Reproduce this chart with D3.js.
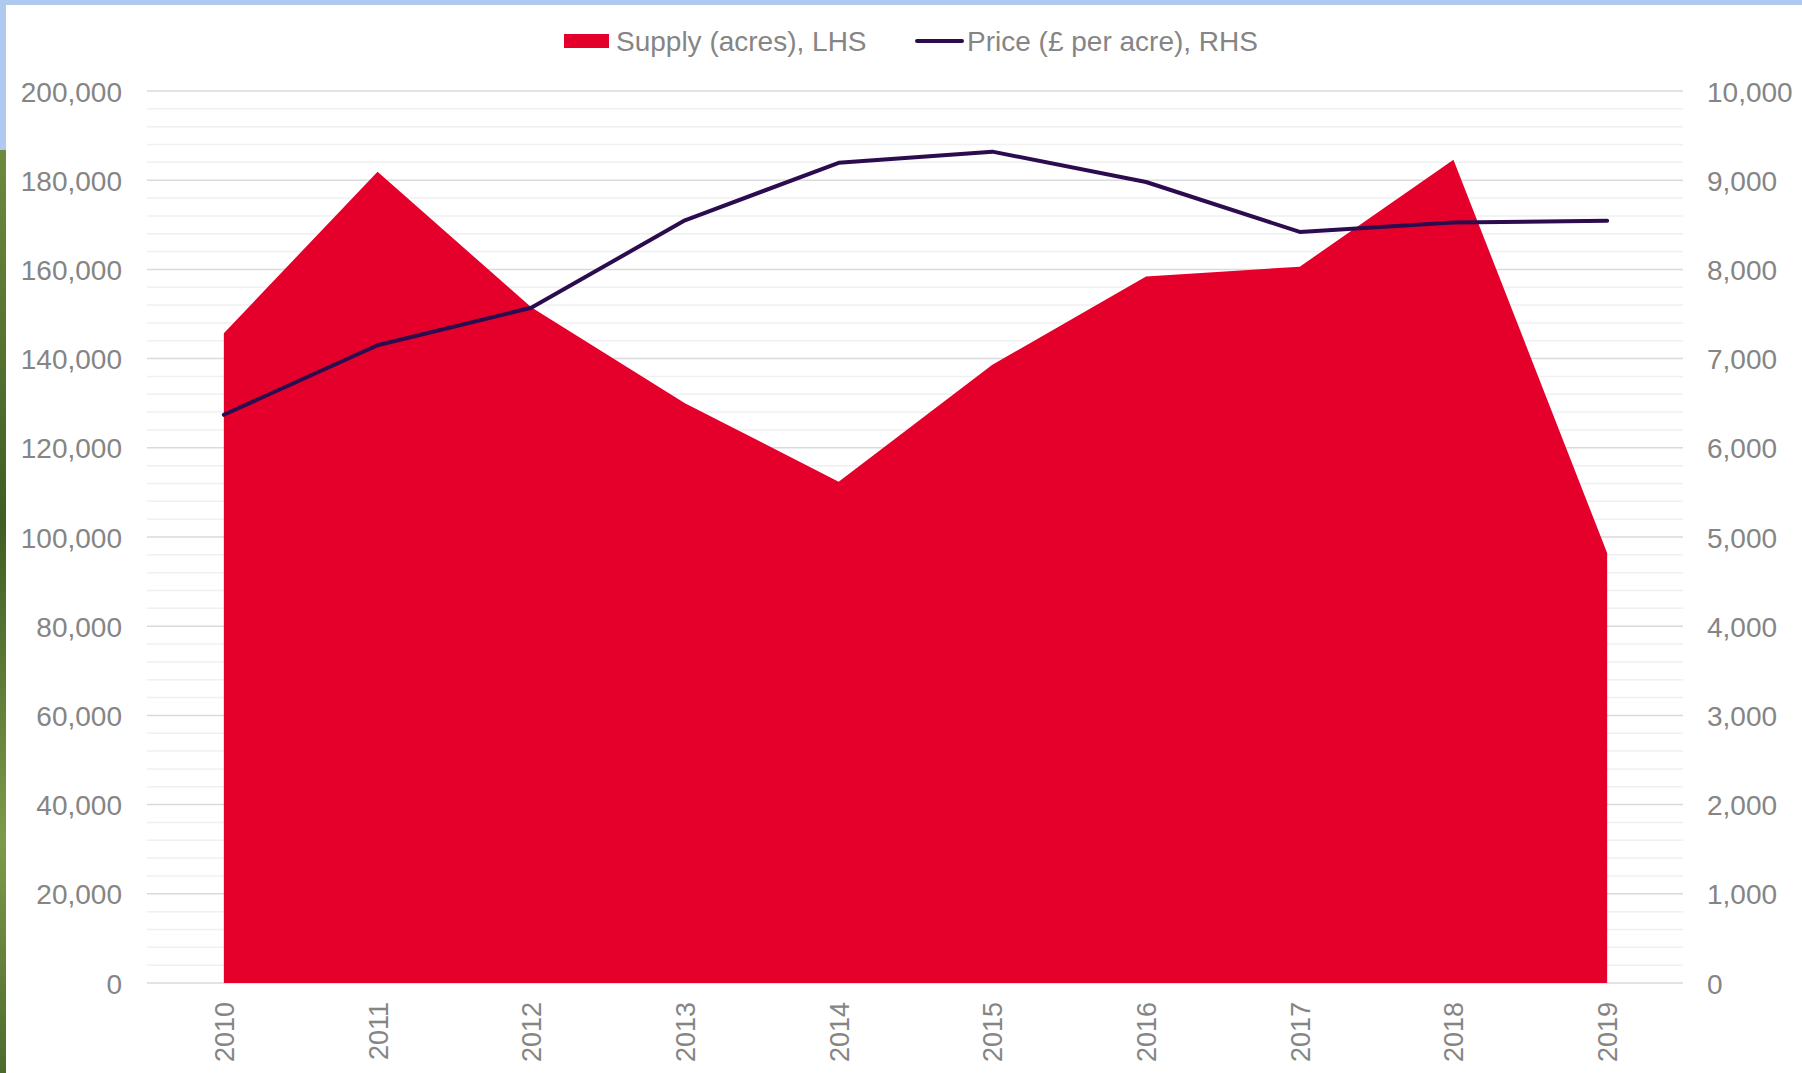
<!DOCTYPE html>
<html>
<head>
<meta charset="utf-8">
<script src="https://cdn.jsdelivr.net/npm/d3@7"></script>
<style>
    body { margin: 0; background: #fff; }
    text { font-family: "Liberation Sans", Arial, sans-serif; fill: #858585; }
</style>
</head>
<body>
<script>
var years = ["2010","2011","2012","2013","2014","2015","2016","2017","2018","2019"];
var supply = [145700, 181900, 151500, 130000, 112400, 138600, 158400, 160600, 184600, 96400];
var price = [6370, 7150, 7570, 8550, 9195, 9320, 8980, 8420, 8525, 8545];
var leftTicks = [0, 20000, 40000, 60000, 80000, 100000, 120000, 140000, 160000, 180000, 200000];
var rightTicks = [0, 1000, 2000, 3000, 4000, 5000, 6000, 7000, 8000, 9000, 10000];

window.onload = function(){
    var w = 1802, h = 1073;
    var left = 147, right = 1684, top = 91, bottom = 983;

    var svg = d3.select("body")
        .append("svg")
        .attr("width", w)
        .attr("height", h);

    // frame bits from the screenshot edges
    var defs = svg.append("defs");
    var grad = defs.append("linearGradient")
        .attr("id", "leaf")
        .attr("x1", 0).attr("y1", 0).attr("x2", 0).attr("y2", 1);
    grad.append("stop").attr("offset", "0%").attr("stop-color", "#6f8a3e");
    grad.append("stop").attr("offset", "40%").attr("stop-color", "#3f5e22");
    grad.append("stop").attr("offset", "75%").attr("stop-color", "#7d9a4a");
    grad.append("stop").attr("offset", "100%").attr("stop-color", "#4c6b2b");

    svg.append("rect")
        .attr("x", 0).attr("y", 0)
        .attr("width", w).attr("height", 5)
        .style("fill", "#aecbef");
    svg.append("rect")
        .attr("x", 0).attr("y", 0)
        .attr("width", 6).attr("height", 150)
        .style("fill", "#aecbef");
    svg.append("rect")
        .attr("x", 0).attr("y", 150)
        .attr("width", 6).attr("height", h - 150)
        .style("fill", "url(#leaf)");

    var x = d3.scalePoint()
        .domain(years)
        .range([left, right])
        .padding(0.5);

    var yL = d3.scaleLinear()
        .domain([0, 200000])
        .range([bottom, top]);

    var yR = d3.scaleLinear()
        .domain([0, 10000])
        .range([bottom, top]);

    // minor + major gridlines
    var minor = d3.range(0, 200001, 4000);
    svg.selectAll(".minor")
        .data(minor.filter(function(d){ return d % 20000 != 0; }))
        .enter()
        .append("line")
        .attr("class", "minor")
        .attr("x1", left).attr("x2", right - 1)
        .attr("y1", function(d){ return yL(d); })
        .attr("y2", function(d){ return yL(d); })
        .style("stroke", "#f0f0f0")
        .style("stroke-width", 1.5);

    svg.selectAll(".major")
        .data(leftTicks)
        .enter()
        .append("line")
        .attr("class", "major")
        .attr("x1", left).attr("x2", right - 1)
        .attr("y1", function(d){ return yL(d); })
        .attr("y2", function(d){ return yL(d); })
        .style("stroke", "#dadada")
        .style("stroke-width", 1.5);

    var area = d3.area()
        .x(function(d, i){ return x(years[i]); })
        .y0(yL(0))
        .y1(function(d){ return yL(d); });

    svg.append("path")
        .datum(supply)
        .attr("d", area)
        .style("fill", "#e4002b");

    var line = d3.line()
        .x(function(d, i){ return x(years[i]); })
        .y(function(d){ return yR(d); });

    svg.append("path")
        .datum(price)
        .attr("d", line)
        .style("fill", "none")
        .style("stroke", "#2b0c4e")
        .style("stroke-width", 4)
        .style("stroke-linecap", "round")
        .style("stroke-linejoin", "round");

    // axes
    var fmt = d3.format(",");

    var axisL = svg.append("g")
        .attr("transform", "translate(122,0)")
        .call(d3.axisLeft(yL).tickValues(leftTicks).tickFormat(fmt).tickSize(0).tickPadding(0));

    var axisR = svg.append("g")
        .attr("transform", "translate(1707,0)")
        .call(d3.axisRight(yR).tickValues(rightTicks).tickFormat(fmt).tickSize(0).tickPadding(0));

    var axisX = svg.append("g")
        .attr("transform", "translate(0," + bottom + ")")
        .call(d3.axisBottom(x).tickSize(0));

    svg.selectAll(".domain").remove();

    axisL.selectAll("text").style("font-size", "28px").attr("dy", "0.36em").style("fill", "#858585");
    axisR.selectAll("text").style("font-size", "28px").attr("dy", "0.36em").style("fill", "#858585");

    axisX.selectAll("text")
        .style("font-size", "27px")
        .style("fill", "#858585")
        .attr("text-anchor", "end")
        .attr("y", 0)
        .attr("dy", "0.35em")
        .attr("transform", "translate(0,19) rotate(-90)");

    // legend
    var legend = svg.append("g");

    legend.append("rect")
        .attr("x", 564).attr("y", 34)
        .attr("width", 45).attr("height", 14)
        .style("fill", "#e4002b");
    legend.append("text")
        .attr("x", 616).attr("y", 51)
        .style("font-size", "28px")
        .text("Supply (acres), LHS");

    legend.append("line")
        .attr("x1", 917).attr("x2", 962)
        .attr("y1", 41).attr("y2", 41)
        .style("stroke", "#2b0c4e")
        .style("stroke-width", 4)
        .style("stroke-linecap", "round");
    legend.append("text")
        .attr("x", 967).attr("y", 51)
        .style("font-size", "28px")
        .text("Price (£ per acre), RHS");
};
</script>
</body>
</html>
